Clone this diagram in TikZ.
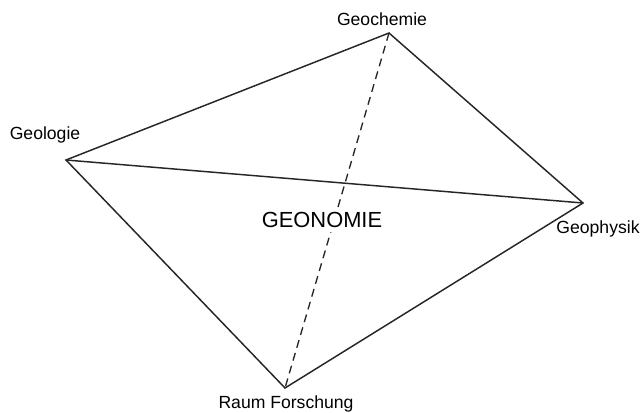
\documentclass[tikz,border=0pt]{standalone}
\usepackage{fontspec}
\setmainfont{Liberation Sans}
\begin{document}
\begin{tikzpicture}[x=0.75pt,y=-0.75pt,
  edge/.style={line width=1.1pt,black!85},
  dashedge/.style={line width=1.0pt,black!85,dash pattern=on 6pt off 4pt},
  lbl/.style={font=\fontsize{13.2}{15}\selectfont,inner sep=0pt},
  big/.style={font=\fontsize{16.4}{19}\selectfont,inner sep=3pt,fill=white}]
\useasboundingbox (0,0) rectangle (641,413);
\coordinate (chem) at (389,33);
\coordinate (geol) at (66,160);
\coordinate (phys) at (583,203);
\coordinate (raum) at (285,388);
\draw[edge] (geol) -- (chem) -- (phys) -- (raum) -- cycle;
\draw[edge] (geol) -- (phys);
\draw[dashedge] (chem) -- (raum);
\node[lbl] (tchem) at (382,19) {Geochemie};
\node[lbl] (tgeol) at (45,135) {Geologie};
\node[lbl] (tphys) at (598,229) {Geophysik};
\node[lbl] (traum) at (286,404) {Raum Forschung};
\node[big] (tgeo) at (322,220) {GEONOMIE};
\end{tikzpicture}
\end{document}
